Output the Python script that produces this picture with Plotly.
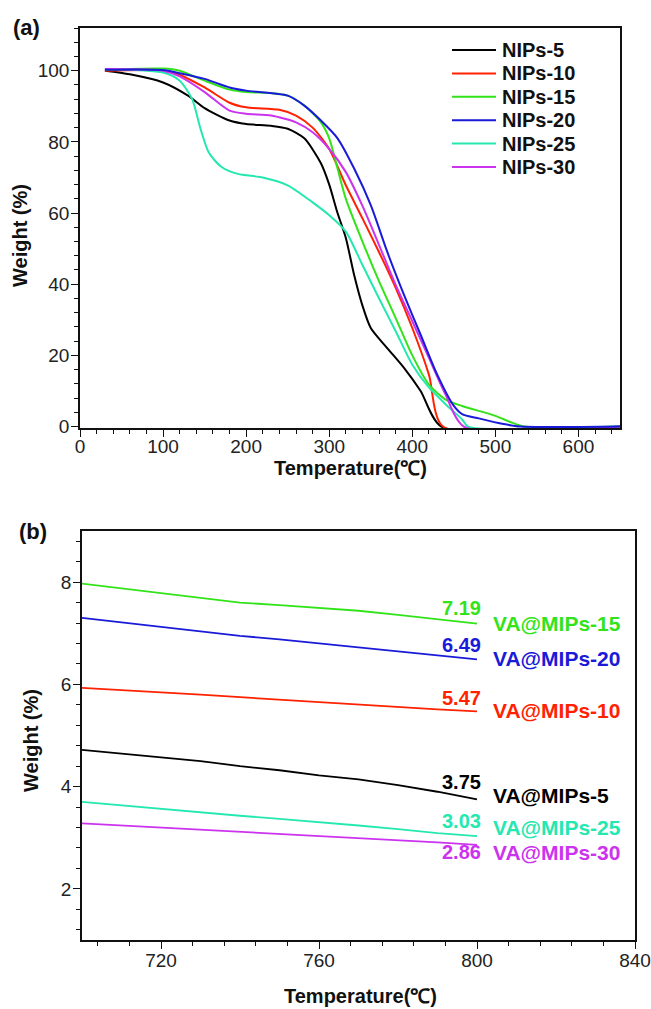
import plotly.graph_objects as go

W_PX, H_PX = 651, 1009

# ---------------- Panel (a) data ----------------
names_a = ["NIPs-5", "NIPs-10", "NIPs-15", "NIPs-20", "NIPs-25", "NIPs-30"]
colors = ["#000000", "#ff2200", "#33e31a", "#1a1ad9", "#25e8b0", "#cc33ee"]

t_nips5 = [30, 60, 100, 130, 150, 180, 200, 230, 250, 270, 290, 300, 310, 320, 330, 340, 350, 370, 390, 410, 435, 650]
w_nips5 = [100, 99, 96.7, 93, 89.5, 86, 85, 84.5, 83.7, 81, 74, 68, 60, 53, 42.6, 34, 27.7, 22, 16.5, 10, 0, 0]

t_nips10 = [30, 100, 120, 150, 180, 200, 240, 260, 280, 300, 320, 340, 360, 380, 400, 420, 437, 650]
w_nips10 = [100, 100, 98.8, 95.3, 91, 89.7, 89, 87.4, 84, 78, 67.8, 58.5, 49, 39, 27.7, 14.6, 0, 0]

t_nips15 = [30, 100, 120, 150, 180, 200, 230, 250, 270, 290, 300, 310, 320, 340, 360, 380, 400, 420, 440, 460, 500, 520, 535, 650]
w_nips15 = [100.3, 100.6, 100, 97.2, 94.7, 94, 93.7, 93, 90.2, 85.5, 81, 72.5, 64, 52, 40.8, 30.5, 20, 11.8, 7.6, 5.8, 3, 1.1, 0, 0]

t_nips20 = [30, 100, 120, 150, 180, 200, 250, 270, 290, 310, 330, 350, 370, 390, 410, 430, 450, 460, 480, 510, 530, 650]
w_nips20 = [100.3, 100.2, 99.3, 97.7, 95.3, 94.4, 93, 90.2, 86, 81, 72.5, 62.2, 49, 37, 25.8, 14.6, 5.8, 3.5, 2.3, 0.7, 0, 0]

t_nips25 = [30, 100, 120, 135, 145, 155, 170, 190, 220, 250, 280, 300, 320, 340, 360, 380, 400, 420, 440, 460, 467, 650]
w_nips25 = [100.5, 99.5, 97.2, 92, 83.7, 77, 73, 71, 70, 67.8, 63, 59.4, 54.8, 45.4, 36, 26.8, 17.4, 11, 6.3, 2, 0, 0]

t_nips30 = [30, 100, 120, 150, 180, 200, 230, 260, 280, 300, 320, 340, 360, 380, 400, 420, 440, 462, 650]
w_nips30 = [100.5, 100, 98.4, 94, 88.8, 87.9, 87.4, 85.5, 82.7, 78, 71.5, 62, 51, 39.8, 29.6, 19.3, 9, 0, 0]

series_a = [(t_nips5, w_nips5), (t_nips10, w_nips10), (t_nips15, w_nips15),
            (t_nips20, w_nips20), (t_nips25, w_nips25), (t_nips30, w_nips30)]
draw_order_a = [0, 1, 2, 4, 5, 3]  # blue drawn last (on top)

# ---------------- Panel (b) data ----------------
t_b = [700, 710, 720, 730, 740, 750, 760, 770, 780, 790, 800]
names_b = ["VA@MIPs-5", "VA@MIPs-10", "VA@MIPs-15", "VA@MIPs-20", "VA@MIPs-25", "VA@MIPs-30"]
w_mips5 = [4.72, 4.65, 4.58, 4.50, 4.40, 4.32, 4.22, 4.14, 4.03, 3.90, 3.75]
w_mips10 = [5.93, 5.89, 5.85, 5.80, 5.75, 5.70, 5.65, 5.60, 5.56, 5.51, 5.47]
w_mips15 = [7.97, 7.88, 7.78, 7.70, 7.60, 7.55, 7.50, 7.44, 7.36, 7.27, 7.19]
w_mips20 = [7.30, 7.21, 7.12, 7.04, 6.95, 6.88, 6.80, 6.72, 6.64, 6.56, 6.49]
w_mips25 = [3.70, 3.63, 3.57, 3.50, 3.43, 3.37, 3.31, 3.24, 3.17, 3.09, 3.03]
w_mips30 = [3.28, 3.24, 3.20, 3.16, 3.11, 3.07, 3.03, 3.00, 2.96, 2.91, 2.86]
series_b = [w_mips5, w_mips10, w_mips15, w_mips20, w_mips25, w_mips30]
value_labels = ["3.75", "5.47", "7.19", "6.49", "3.03", "2.86"]
value_label_y = [4.09, 5.73, 7.49, 6.78, 3.32, 2.72]
name_label_y = [3.83, 5.49, 7.19, 6.50, 3.21, 2.72]

FONT = "Liberation Sans, Arial, sans-serif"

fig = go.Figure()

for i in draw_order_a:
    t, w = series_a[i]
    fig.add_trace(go.Scatter(
        x=t, y=w, mode="lines", name=names_a[i],
        line=dict(color=colors[i], width=2, shape="spline", smoothing=0.7),
        xaxis="x", yaxis="y", showlegend=False))

for i, w in enumerate(series_b):
    fig.add_trace(go.Scatter(
        x=t_b, y=w, mode="lines", name=names_b[i],
        line=dict(color=colors[i], width=1.8),
        xaxis="x2", yaxis="y2", showlegend=False))

def px_x(p):
    return p / W_PX

def px_y(p):
    return 1 - p / H_PX

tickfont = dict(family=FONT, size=19, color="#222")
minor_style = dict(ticks="outside", ticklen=4, tickwidth=1.2, tickcolor="#111")
common_axis = dict(showline=True, linecolor="#111", linewidth=1.5, mirror=True,
                   ticks="outside", ticklen=7, tickwidth=1.3, tickcolor="#111",
                   showgrid=False, zeroline=False, tickfont=tickfont,
                   automargin=False)

fig.update_layout(
    width=W_PX, height=H_PX,
    margin=dict(l=0, r=0, t=0, b=0),
    paper_bgcolor="white", plot_bgcolor="white",
    font=dict(family=FONT, color="#111"),
    showlegend=False,
    xaxis=dict(domain=[px_x(80), px_x(620)], range=[0, 650], dtick=100, tick0=0,
               anchor="y", layer="below traces", ticklabelstandoff=-7,
               minor=dict(dtick=20, **minor_style), **common_axis),
    yaxis=dict(domain=[px_y(428), px_y(28)], range=[-0.4, 112], dtick=20, tick0=0,
               anchor="x", ticklabelstandoff=-2,
               minor=dict(dtick=4, **minor_style), **common_axis),
    xaxis2=dict(domain=[px_x(82), px_x(635)], range=[700, 840], dtick=40, tick0=720,
                anchor="y2", ticklabelstandoff=-5,
                minor=dict(dtick=8, **minor_style), **common_axis),
    yaxis2=dict(domain=[px_y(940), px_y(531)], range=[1, 9], dtick=2, tick0=0,
                anchor="x2", ticklabelstandoff=-2,
                minor=dict(dtick=0.4, **minor_style), **common_axis),
)

ann = []
shapes = []
title_font = dict(family=FONT, size=20, color="#111", weight="bold")
panel_font = dict(family=FONT, size=22, color="#111", weight="bold")

def paper_text(text, cx, cy, font, angle=0):
    return dict(text=text, x=px_x(cx), y=px_y(cy), xref="paper", yref="paper",
                xanchor="center", yanchor="middle", showarrow=False,
                textangle=angle, font=font)

ann.append(paper_text("(a)", 26, 27, panel_font))
ann.append(paper_text("(b)", 33, 531, panel_font))
ann.append(paper_text("Temperature(℃)", 350, 468, title_font))
ann.append(paper_text("Temperature(℃)", 360, 996, title_font))
ann.append(paper_text("Weight (%)", 20, 236, title_font, -90))
ann.append(paper_text("Weight (%)", 31, 741, title_font, -90))

# legend for panel (a): line sample + bold label for each series
leg_y0, leg_dy = 50, 23.4
for i, name in enumerate(names_a):
    yy = px_y(leg_y0 + i * leg_dy)
    shapes.append(dict(type="line", xref="paper", yref="paper",
                       x0=px_x(452), x1=px_x(496), y0=yy, y1=yy,
                       line=dict(color=colors[i], width=2)))
    ann.append(dict(text=name, x=px_x(500), y=yy, xref="paper", yref="paper",
                    xanchor="left", yanchor="middle", showarrow=False,
                    font=dict(family=FONT, size=20, color="#111", weight="bold")))

for i in range(len(names_b)):
    ann.append(dict(text=value_labels[i], x=801.5, y=value_label_y[i], xref="x2", yref="y2",
                    xanchor="right", yanchor="middle", showarrow=False,
                    font=dict(family=FONT, size=20, color=colors[i], weight="bold")))
    ann.append(dict(text=names_b[i], x=803.5, y=name_label_y[i], xref="x2", yref="y2",
                    xanchor="left", yanchor="middle", showarrow=False,
                    font=dict(family=FONT, size=21, color=colors[i], weight="bold")))

fig.update_layout(annotations=ann, shapes=shapes)
fig.write_html("out.html", config={"displayModeBar": False},
               post_script="document.body.style.margin='0';document.body.style.overflow='hidden';")
